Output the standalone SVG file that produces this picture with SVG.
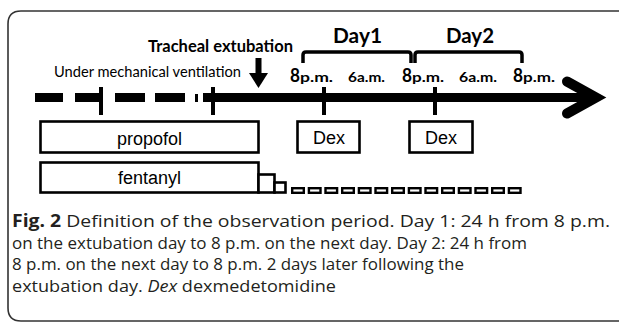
<svg xmlns="http://www.w3.org/2000/svg" width="619" height="322" viewBox="0 0 619 322">
<style>
.lbl{font-family:Lato,"Liberation Sans",sans-serif;fill:#000}
.b{font-weight:bold}
.box{fill:#fff;stroke:#000;stroke-width:2.6}
.sm{fill:#fff;stroke:#000;stroke-width:2.4}
.bar{fill:#000}
.brk{fill:none;stroke:#000;stroke-width:3.5;stroke-linejoin:round}
.drug{font-family:"Liberation Sans",Arial,sans-serif;font-size:18px;fill:#000}
.cap{font-family:"Open Sans","Liberation Sans",sans-serif;font-size:17px;fill:#231f20}
</style>
<rect width="619" height="322" fill="#fff"/>
<path id="frame" d="M619 11 H21 Q8 11 8 24 V308 Q8 321 21 321 H619" fill="none" stroke="#333" stroke-width="1.6"/>

<g id="timeline">
  <rect class="bar" x="35" y="93" width="28" height="9"/>
  <rect class="bar" x="75" y="93" width="26" height="9"/>
  <rect class="bar" x="99" y="87" width="4" height="28"/>
  <rect class="bar" x="115" y="93" width="30" height="9"/>
  <rect class="bar" x="155" y="93" width="30" height="9"/>
  <rect class="bar" x="195" y="94" width="3" height="8"/>
  <rect class="bar" x="203" y="93" width="394" height="9"/>
  <rect class="bar" x="211" y="87" width="4" height="28"/>
  <rect class="bar" x="322" y="87" width="4" height="28"/>
  <rect class="bar" x="433" y="87" width="4" height="28"/>
  <polyline points="567,81.5 596,97.5 567,113.5" fill="none" stroke="#000" stroke-width="10" stroke-linecap="round" stroke-linejoin="miter"/>
</g>

<g id="extubation">
  <text class="lbl b" x="148" y="52" font-size="17" textLength="145" lengthAdjust="spacingAndGlyphs">Tracheal extubation</text>
  <rect class="bar" x="255.5" y="58" width="6" height="16"/>
  <polygon class="bar" points="249,73 268,73 258.5,88"/>
</g>

<g id="ventilation">
  <text class="lbl" x="54" y="77" font-size="15" textLength="187" lengthAdjust="spacingAndGlyphs">Under mechanical ventilation</text>
</g>

<g id="day1">
  <text class="lbl b" x="333" y="43" font-size="20" textLength="49" lengthAdjust="spacingAndGlyphs">Day1</text>
  <path class="brk" d="M303 63 V55 Q303 52 306 52 H408 Q411 52 411 55 V63"/>
</g>
<g id="day2">
  <text class="lbl b" x="446" y="43" font-size="20" textLength="48" lengthAdjust="spacingAndGlyphs">Day2</text>
  <path class="brk" d="M415 63 V55 Q415 52 418 52 H519 Q522 52 522 55 V63"/>
</g>

<g id="times">
  <text class="lbl b" x="290" y="82" font-size="19" textLength="10" lengthAdjust="spacingAndGlyphs">8</text>
  <text class="lbl b" x="300" y="82" font-size="14" textLength="33" lengthAdjust="spacingAndGlyphs">p.m.</text>
  <text class="lbl b" x="348" y="82" font-size="14" textLength="37" lengthAdjust="spacingAndGlyphs">6a.m.</text>
  <text class="lbl b" x="402" y="82" font-size="19" textLength="10" lengthAdjust="spacingAndGlyphs">8</text>
  <text class="lbl b" x="412" y="82" font-size="14" textLength="32" lengthAdjust="spacingAndGlyphs">p.m.</text>
  <text class="lbl b" x="459" y="82" font-size="14" textLength="38" lengthAdjust="spacingAndGlyphs">6a.m.</text>
  <text class="lbl b" x="513" y="82" font-size="19" textLength="10" lengthAdjust="spacingAndGlyphs">8</text>
  <text class="lbl b" x="523" y="82" font-size="14" textLength="32" lengthAdjust="spacingAndGlyphs">p.m.</text>
</g>

<g id="propofol">
  <rect class="box" x="40.5" y="121.5" width="218" height="31"/>
  <text class="drug" x="149.5" y="145" text-anchor="middle">propofol</text>
</g>

<g id="fentanyl">
  <rect class="box" x="40.5" y="162.5" width="218" height="30"/>
  <text class="drug" x="149.5" y="184" text-anchor="middle">fentanyl</text>
  <rect class="box" x="258.5" y="174.5" width="16" height="18"/>
  <rect class="box" x="274.5" y="182.5" width="11" height="10"/>
  <g id="fentanyl-small">
    <rect class="sm" x="292.2" y="188.2" width="11.6" height="4.6"/>
    <rect class="sm" x="308.9" y="188.2" width="11.6" height="4.6"/>
    <rect class="sm" x="325.5" y="188.2" width="11.6" height="4.6"/>
    <rect class="sm" x="342.2" y="188.2" width="11.6" height="4.6"/>
    <rect class="sm" x="358.9" y="188.2" width="11.6" height="4.6"/>
    <rect class="sm" x="375.5" y="188.2" width="11.6" height="4.6"/>
    <rect class="sm" x="392.2" y="188.2" width="11.6" height="4.6"/>
    <rect class="sm" x="408.9" y="188.2" width="11.6" height="4.6"/>
    <rect class="sm" x="425.5" y="188.2" width="11.6" height="4.6"/>
    <rect class="sm" x="442.2" y="188.2" width="11.6" height="4.6"/>
    <rect class="sm" x="458.9" y="188.2" width="11.6" height="4.6"/>
    <rect class="sm" x="475.5" y="188.2" width="11.6" height="4.6"/>
    <rect class="sm" x="492.2" y="188.2" width="11.6" height="4.6"/>
    <rect class="sm" x="508.9" y="188.2" width="11.6" height="4.6"/>
  </g>
</g>

<g id="dex1">
  <rect class="box" x="297.5" y="121.5" width="62" height="31"/>
  <text class="drug" x="329" y="144" text-anchor="middle">Dex</text>
</g>
<g id="dex2">
  <rect class="box" x="409.5" y="121.5" width="63" height="31"/>
  <text class="drug" x="441" y="144" text-anchor="middle">Dex</text>
</g>

<g id="caption">
  <text class="cap" x="12" y="227" textLength="598" lengthAdjust="spacingAndGlyphs"><tspan font-weight="bold" fill="#231f20">Fig. 2</tspan> Definition of the observation period. Day 1: 24 h from 8 p.m.</text>
  <text class="cap" x="12" y="248.5" textLength="515" lengthAdjust="spacingAndGlyphs">on the extubation day to 8 p.m. on the next day. Day 2: 24 h from</text>
  <text class="cap" x="12" y="270" textLength="452" lengthAdjust="spacingAndGlyphs">8 p.m. on the next day to 8 p.m. 2 days later following the</text>
  <text class="cap" x="12" y="291.5" textLength="324" lengthAdjust="spacingAndGlyphs">extubation day. <tspan font-style="italic">Dex</tspan> dexmedetomidine</text>
</g>
</svg>
